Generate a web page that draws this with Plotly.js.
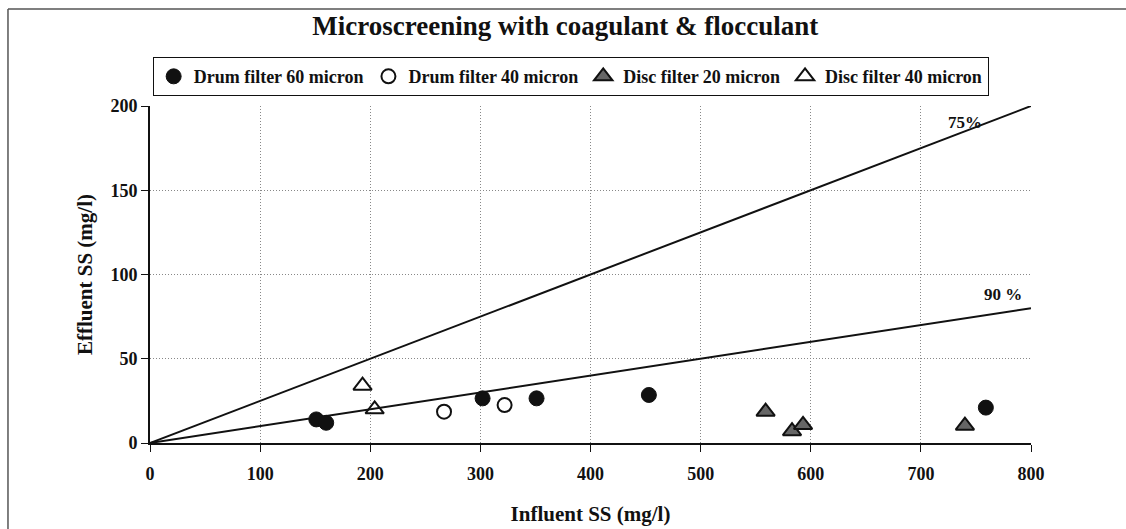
<!DOCTYPE html>
<html>
<head>
<meta charset="utf-8">
<script src="https://cdn.plot.ly/plotly-3.0.1.min.js"></script>
<style>html,body{margin:0;padding:0;background:#fff;}#chart{width:1126px;height:529px;}</style>
</head>
<body>
<div id="chart"></div>
<script>
// Data
const drum60X = [151, 160, 302, 351, 453, 759];
const drum60Y = [14, 12, 26.5, 26.5, 28.5, 21];
const drum40X = [267, 322];
const drum40Y = [18.6, 22.5];
const disc20X = [559, 583, 593, 740];
const disc20Y = [18.6, 7, 10.7, 10.3];
const disc40X = [193, 204];
const disc40Y = [34, 20];
const line75X = [0, 800];
const line75Y = [0, 200];
const line90X = [0, 800];
const line90Y = [0, 80];
const xTicks = [0, 100, 200, 300, 400, 500, 600, 700, 800];
const yTicks = [0, 50, 100, 150, 200];

const serif = "Liberation Serif, DejaVu Serif, serif";
const traces = [
  {x: line75X, y: line75Y, mode: 'lines', line: {color: '#111', width: 2}, showlegend: false, hoverinfo: 'skip'},
  {x: line90X, y: line90Y, mode: 'lines', line: {color: '#111', width: 2}, showlegend: false, hoverinfo: 'skip'},
  {x: drum60X, y: drum60Y, mode: 'markers', name: 'Drum filter 60 micron',
   marker: {symbol: 'circle', size: 15, color: '#111', line: {color: '#111', width: 1}}},
  {x: drum40X, y: drum40Y, mode: 'markers', name: 'Drum filter 40 micron',
   marker: {symbol: 'circle-open', size: 14, color: '#111', line: {color: '#111', width: 2}}},
  {x: disc20X, y: disc20Y, mode: 'markers', name: 'Disc filter 20 micron',
   marker: {symbol: 'triangle-up', size: 16, color: '#666', line: {color: '#111', width: 2}}},
  {x: disc40X, y: disc40Y, mode: 'markers', name: 'Disc filter 40 micron',
   marker: {symbol: 'triangle-up-open', size: 16, color: '#111', line: {color: '#111', width: 2}}}
];

const layout = {
  width: 1126, height: 529,
  margin: {l: 150, r: 95, t: 106, b: 86},
  paper_bgcolor: '#fff', plot_bgcolor: '#fff',
  font: {family: serif, color: '#111'},
  title: {text: '<b>Microscreening with coagulant &amp; flocculant</b>', x: 0.502, xanchor: 'center', y: 0.952, yanchor: 'middle',
          font: {family: serif, size: 27, color: '#111'}},
  showlegend: true,
  legend: {orientation: 'h', x: 0.003, xanchor: 'left', y: 1.145, yanchor: 'top',
           bordercolor: '#111', borderwidth: 1, bgcolor: '#fff',
           font: {family: serif, size: 18, color: '#111', weight: 'bold'},
           itemwidth: 30, tracegroupgap: 0},
  xaxis: {range: [0, 800], tickvals: xTicks, ticktext: xTicks.map(v => '<b>' + v + '</b>'),
          showgrid: true, gridcolor: '#888', griddash: '1px,2px', gridwidth: 1,
          zeroline: false, showline: true, linecolor: '#111', linewidth: 2,
          ticks: 'outside', ticklen: 7, tickcolor: '#111', tickwidth: 1,
          ticklabelstandoff: 6,
          tickfont: {family: serif, size: 18, color: '#111'},
          title: {text: '<b>Influent SS (mg/l)</b>', font: {family: serif, size: 21, color: '#111'}, standoff: 24}},
  yaxis: {range: [0, 200], tickvals: yTicks, ticktext: yTicks.map(v => '<b>' + v + '</b>'),
          showgrid: true, gridcolor: '#888', griddash: '1px,2px', gridwidth: 1,
          zeroline: false, showline: true, linecolor: '#111', linewidth: 2,
          ticks: 'outside', ticklen: 7, tickcolor: '#111', tickwidth: 1,
          tickfont: {family: serif, size: 18, color: '#111'},
          title: {text: '<b>Effluent SS (mg/l)</b>', font: {family: serif, size: 21, color: '#111'}, standoff: 12}},
  annotations: [
    {x: 740, y: 190, xref: 'x', yref: 'y', text: '<b>75%</b>', showarrow: false, font: {family: serif, size: 17, color: '#111'}},
    {x: 775, y: 88, xref: 'x', yref: 'y', text: '<b>90 %</b>', showarrow: false, font: {family: serif, size: 17, color: '#111'}}
  ],
  shapes: [
    {type: 'line', xref: 'paper', yref: 'paper', x0: -0.1612, x1: -0.1612, y0: 1.2878, y1: -0.3, line: {color: '#555', width: 1.5}},
    {type: 'line', xref: 'paper', yref: 'paper', x0: -0.1612, x1: 1.12, y0: 1.2878, y1: 1.2878, line: {color: '#555', width: 1.5}}
  ]
};

Plotly.newPlot('chart', traces, layout, {displayModeBar: false, staticPlot: true});
</script>
</body>
</html>
